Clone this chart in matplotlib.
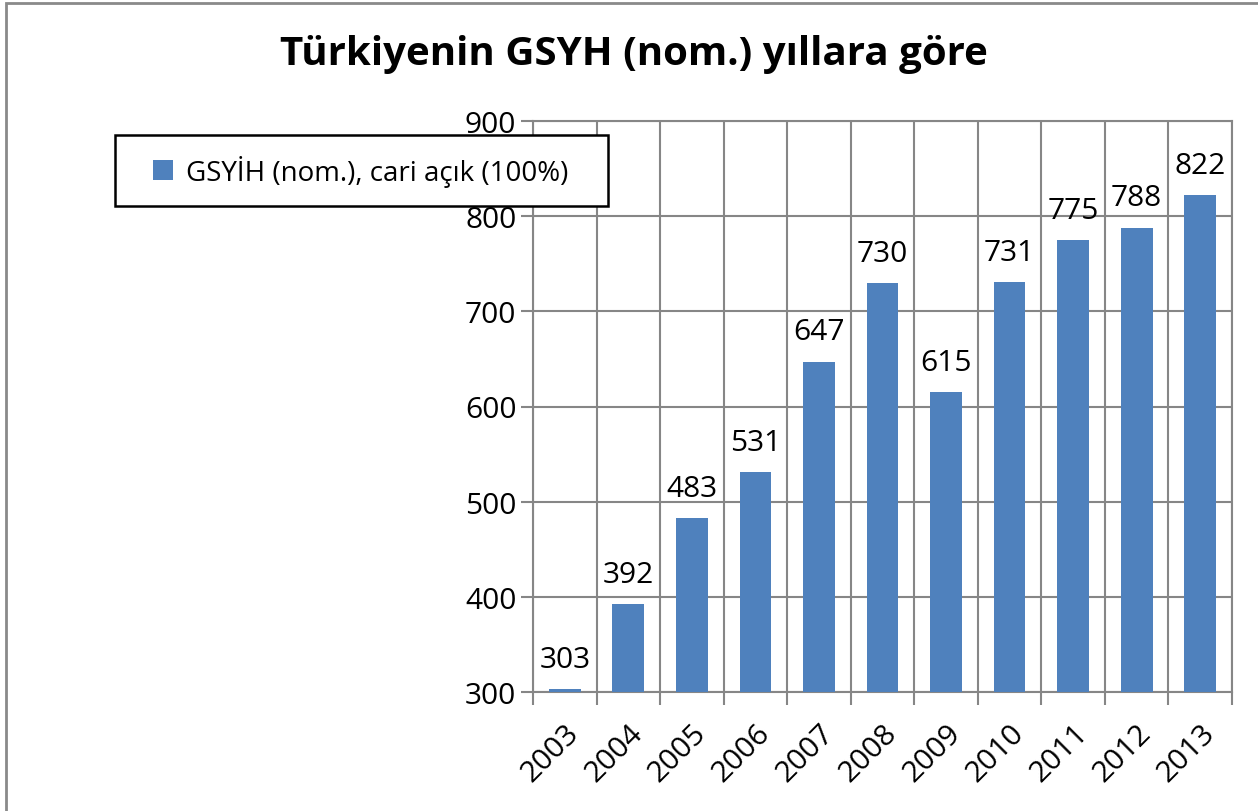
import matplotlib.pyplot as plt
from matplotlib.patches import Rectangle

years = ["2003", "2004", "2005", "2006", "2007", "2008", "2009", "2010", "2011", "2012", "2013"]
gdp = [303, 392, 483, 531, 647, 730, 615, 731, 775, 788, 822]
y_ticks = [300, 400, 500, 600, 700, 800, 900]
series_name = "GSYİH (nom.), cari açık (100%)"
title = "Türkiyenin GSYH (nom.) yıllara göre"

plt.rcParams["font.family"] = ["Open Sans", "DejaVu Sans"]
grid_c = "#868686"
bar_c = "#4F81BD"

fig = plt.figure(figsize=(12.58, 8.12), dpi=100)
fig.patches.append(Rectangle((6 / 1258, -0.1), 1.2, 1.1 - 4 / 812, transform=fig.transFigure,
                             fill=False, edgecolor="#8a8a8a", linewidth=2))
ax = fig.add_axes([533 / 1258, 1 - 693 / 812, (1232 - 533) / 1258, (693 - 122) / 812])

x = list(range(len(years)))
bars = ax.bar(x, gdp, width=0.5, color=bar_c, label=series_name, zorder=3)
for xi, v in zip(x, gdp):
    ax.annotate(str(v), (xi, v), xytext=(0, 11), textcoords="offset points",
                ha="center", va="bottom", fontsize=21.5)

ax.set_ylim(300, 900)
ax.set_xlim(-0.5, len(years) - 0.5)
ax.set_yticks(y_ticks)
ax.set_xticks([i - 0.5 for i in range(len(years) + 1)])
ax.set_xticklabels([])
ax.set_xticks(x, minor=True)
ax.set_xticklabels(years, minor=True, rotation=45, ha="right", va="top",
                   rotation_mode="anchor", fontsize=21.5)
ax.tick_params(axis="x", which="minor", length=0, pad=19)
ax.tick_params(axis="x", which="major", length=9, width=1.5, color=grid_c, direction="out")
ax.tick_params(axis="y", length=9, width=1.5, color=grid_c, labelsize=21.5, pad=3)
ax.grid(True, which="major", color=grid_c, linewidth=1.5, zorder=0)
ax.set_axisbelow(True)
for s in ax.spines.values():
    s.set_color(grid_c)
    s.set_linewidth(1.5)

fig.text(0.504, 1 - 55 / 812, title, ha="center", va="center", fontsize=29, fontweight="bold")

# legend box drawn separately so its width matches the original
box = Rectangle((115 / 1258, 1 - 207 / 812), 493 / 1258, 71 / 812,
                transform=fig.transFigure, facecolor="white", edgecolor="black",
                linewidth=1.8, zorder=4, clip_on=False)
ax.add_artist(box)
leg = ax.legend(loc="center", bbox_to_anchor=(361 / 1258, 1 - 171.5 / 812),
                bbox_transform=fig.transFigure, fontsize=20, frameon=False,
                borderpad=0.75, handlelength=0.7, handleheight=0.7,
                handletextpad=0.5, borderaxespad=0)
leg.set_zorder(5)

fig.savefig("out.png", dpi=100)
